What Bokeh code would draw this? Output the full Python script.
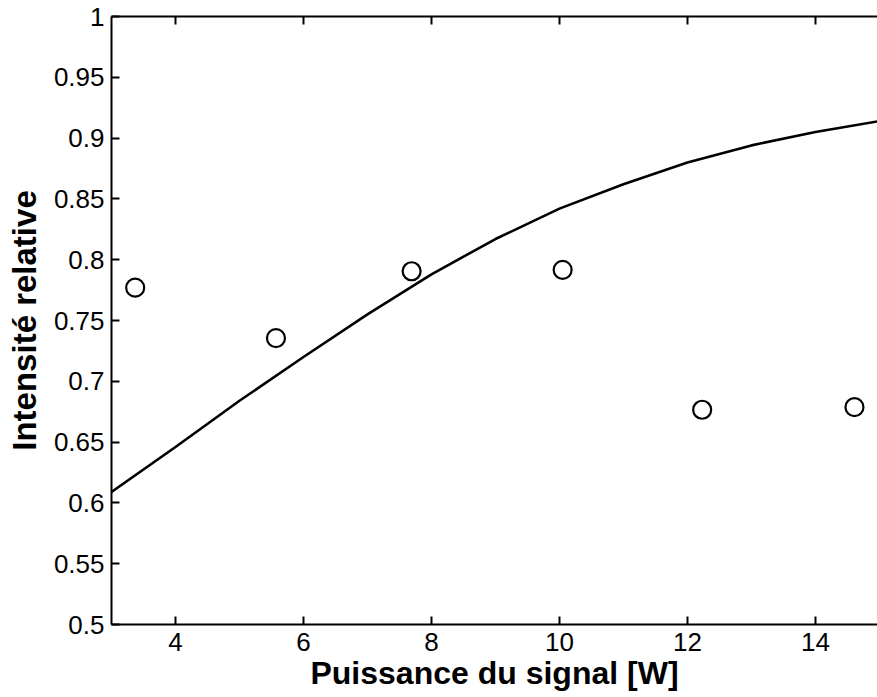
from bokeh.plotting import figure
from bokeh.models import Range1d, LinearAxis, FixedTicker
from bokeh.embed import file_html
from bokeh.resources import INLINE

# Measured points
x_meas = [3.37, 5.57, 7.69, 10.05, 12.23, 14.61]
y_meas = [0.777, 0.7355, 0.7905, 0.7917, 0.6766, 0.6787]

# Fitted curve
x_fit = [3, 4, 5, 6, 7, 8, 9, 10, 11, 12, 13, 14, 15]
y_fit = [0.609, 0.646, 0.684, 0.720, 0.755, 0.788, 0.817, 0.842, 0.862, 0.880, 0.894, 0.905, 0.914]

x_ticks = [4, 6, 8, 10, 12, 14]
y_ticks = [0.5, 0.55, 0.6, 0.65, 0.7, 0.75, 0.8, 0.85, 0.9, 0.95, 1.0]
y_tick_labels = ["0.5", "0.55", "0.6", "0.65", "0.7", "0.75", "0.8", "0.85", "0.9", "0.95", "1"]

FONT = "Liberation Sans"

p = figure(width=877, height=697,
           x_range=Range1d(3, 14.97), y_range=Range1d(0.5, 1.0),
           output_backend="svg", toolbar_location=None,
           min_border_left=111, min_border_right=0,
           min_border_top=16, min_border_bottom=73,
           background_fill_color="white", border_fill_color="white")
p.outline_line_color = None
p.xgrid.visible = False
p.ygrid.visible = False

p.line(x_fit, y_fit, line_color="black", line_width=2.6)
p.scatter(x_meas, y_meas, marker="circle", size=18, fill_color=None,
          line_color="black", line_width=2.2)

for ax in (p.xaxis[0], p.yaxis[0]):
    ax.axis_line_width = 2
    ax.axis_line_color = "black"
    ax.major_tick_line_width = 2
    ax.major_tick_in = 8
    ax.major_tick_out = 0
    ax.minor_tick_line_color = None
    ax.major_label_text_font = FONT
    ax.major_label_text_font_size = "26px"
    ax.major_label_text_color = "black"
    ax.axis_label_text_font = FONT
    ax.axis_label_text_font_size = "32px"
    ax.axis_label_text_font_style = "bold"
    ax.axis_label_text_color = "black"

p.xaxis[0].ticker = FixedTicker(ticks=x_ticks)
p.xaxis[0].axis_label = "Puissance du signal [W]"
p.xaxis[0].major_label_standoff = 8
p.xaxis[0].axis_label_standoff = 1

p.yaxis[0].ticker = FixedTicker(ticks=y_ticks)
p.yaxis[0].major_label_overrides = {t: l for t, l in zip(y_ticks, y_tick_labels)}
p.yaxis[0].axis_label = "Intensité relative"
p.yaxis[0].axis_label_text_font_size = "33px"
p.yaxis[0].major_label_standoff = 7
p.yaxis[0].axis_label_standoff = 8

top = LinearAxis(ticker=FixedTicker(ticks=x_ticks))
top.axis_line_width = 2
top.major_tick_line_width = 2
top.major_tick_in = 8
top.major_tick_out = 0
top.minor_tick_line_color = None
top.major_label_overrides = {t: "" for t in x_ticks}
top.major_label_text_font_size = "1px"
top.major_label_standoff = 0
p.add_layout(top, "above")

open("out.html", "w").write(file_html(p, INLINE))
